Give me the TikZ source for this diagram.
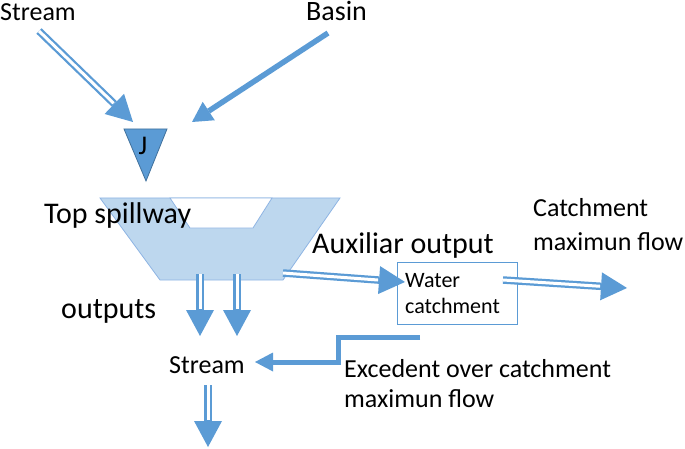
\documentclass[tikz,border=0pt]{standalone}
\usepackage{fontspec}
\setmainfont{Carlito}
\usetikzlibrary{arrows.meta}
\definecolor{ablue}{HTML}{5B9BD5}
\definecolor{lblue}{HTML}{BDD7EE}
\definecolor{edgeblue}{HTML}{8EB4E3}
\definecolor{jedge}{HTML}{41719C}
\tikzset{
  txt/.style={inner sep=0pt, anchor=base west, font=\fontsize{26}{30}\selectfont},
  bigtxt/.style={inner sep=0pt, anchor=base west, font=\fontsize{30}{34}\selectfont},
  smalltxt/.style={inner sep=0pt, anchor=base west, font=\fontsize{22}{26}\selectfont},
  dblshaft/.style={draw=ablue, line width=7.5pt, line cap=butt,
    -{Triangle[length=26pt, width=28pt, line width=0pt]}},
  dblgap/.style={draw=white, line width=3pt, line cap=butt, shorten >=27pt},
  thickarrow/.style={draw=ablue, line width=5.5pt, line join=miter,
    -{Triangle[length=20pt, width=22pt, line width=0pt]}},
  basinshape/.style={fill=lblue, draw=edgeblue, line width=0.8pt},
  holeshape/.style={fill=white, draw=edgeblue, line width=0.8pt},
  jshape/.style={fill=ablue, draw=jedge, line width=0.8pt},
  boxshape/.style={draw=ablue, line width=1pt}
}
\begin{document}
\begin{tikzpicture}[x=1pt, y=-1pt]
\useasboundingbox (0,0) rectangle (685,449);
% reservoir (trapezoid) with top spillway hole
\draw[basinshape] (100,198) -- (340,198) -- (283,280) -- (160,280) -- cycle;
\draw[holeshape] (170,198) -- (272,198) -- (253,228) -- (190,228) -- cycle;
% junction triangle
\draw[jshape] (124,129) -- (167,129) -- (146,181) -- cycle;
\node[inner sep=0pt, anchor=base, font=\fontsize{27}{30}\selectfont] (J) at (143,155) {J};
% water catchment box
\draw[boxshape] (397,262) rectangle (517,324);
\node[smalltxt] (wc1) at (405,287) {Water};
\node[smalltxt] (wc2) at (405,313) {catchment};
% labels
\node[txt] (streamtop) at (0,21) {Stream};
\node[txt, font=\fontsize{28}{32}\selectfont] (basin) at (306,21) {Basin};
\node[bigtxt] (topspill) at (44,223) {Top spillway};
\node[bigtxt] (outputs) at (61,318) {outputs};
\node[bigtxt] (aux) at (312,253) {Auxiliar output};
\node[txt] (cmf1) at (533,217) {Catchment};
\node[txt] (cmf2) at (533,250) {maximun flow};
\node[txt] (streammid) at (169,373) {Stream};
\node[txt] (exc1) at (344,377) {Excedent over catchment};
\node[txt] (exc2) at (344,407) {maximun flow};
% arrow end points
\coordinate (s0) at (39,31);   \coordinate (s1) at (133,122);
\coordinate (b0) at (328,33);  \coordinate (b1) at (192,122);
\coordinate (o10) at (200,274); \coordinate (o11) at (200,336);
\coordinate (o20) at (237,274); \coordinate (o21) at (237,336);
\coordinate (a0) at (283,273); \coordinate (a1) at (405,282);
\coordinate (r0) at (503,280); \coordinate (r1) at (627,288);
\coordinate (e0) at (420,337); \coordinate (e1) at (255,362);
\coordinate (d0) at (208,385); \coordinate (d1) at (208,447);
% double arrows
\foreach \p/\q in {s0/s1, o10/o11, o20/o21, a0/a1, r0/r1, d0/d1}{
  \draw[dblshaft] (\p) -- (\q);
  \draw[dblgap] (\p) -- (\q);
}
% single thick arrows
\draw[thickarrow] (b0) -- (b1);
\draw[thickarrow, line width=5pt, -{Triangle[length=18pt, width=19pt, line width=0pt]}] (e0) -- ++(-82,0) |- (e1);
\end{tikzpicture}
\end{document}
